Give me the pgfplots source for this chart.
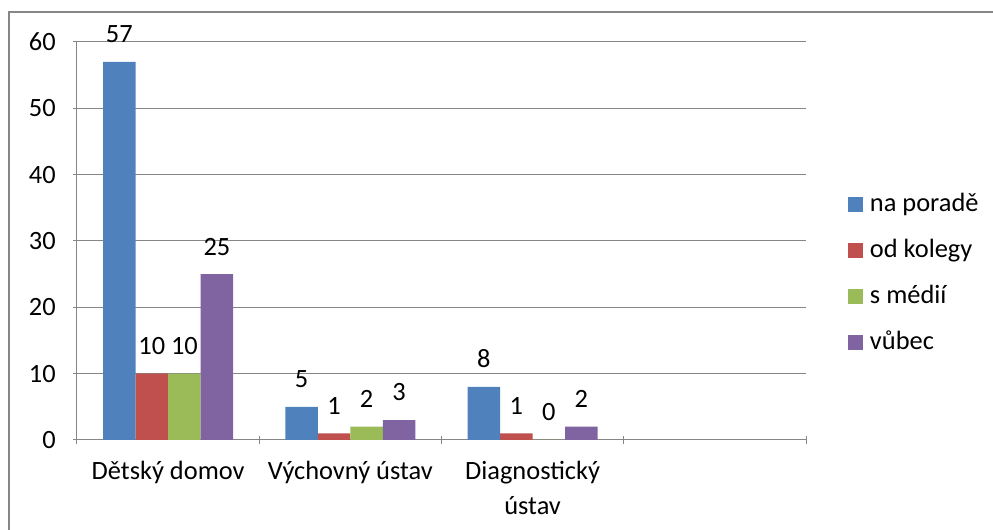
\documentclass[border=0pt]{standalone}
\usepackage{fontspec}
\setmainfont{Carlito}
\usepackage{pgfplots}
\pgfplotsset{compat=1.18}
\definecolor{cblue}{HTML}{4F81BD}
\definecolor{cred}{HTML}{C0504D}
\definecolor{cgreen}{HTML}{9BBB59}
\definecolor{cpurple}{HTML}{8064A2}
\definecolor{axgray}{HTML}{868686}
\newcommand\cf{\fontsize{19.8}{26.25}\selectfont}
\begin{document}
\begin{tikzpicture}
\useasboundingbox (0,0) rectangle (744.75pt,-397.5pt);
\draw[axgray, line width=1.5pt] (6.4pt,-400pt) -- (6.4pt,-8.9pt) -- (750pt,-8.9pt);
\begin{axis}[
  at={(57.75pt,-330pt)}, anchor=south west,
  scale only axis, width=546.75pt, height=298.5pt,
  ybar=0pt, bar width=24.4pt,
  legend image code/.code={\fill[#1] (0pt,0pt) rectangle (11.25pt,11.25pt);},
  xmin=-0.5, xmax=3.5, ymin=0, ymax=60,
  ytick={0,10,...,60},
  xtick={0,1,2,3},
  xticklabels={Dětský domov, Výchovný ústav, {\begin{tabular}[t]{@{}c@{}}Diagnostický\\ústav\end{tabular}}, {}},
  minor xtick={-0.5,0.5,1.5,2.5,3.5},
  major tick length=6pt, minor tick length=6pt, tick align=outside,
  axis lines=left, axis line style={-, draw=axgray, line width=0.75pt},
  major x tick style={draw=none},
  minor x tick style={axgray, line width=0.75pt},
  ytick style={axgray, line width=0.75pt},
  ymajorgrids, grid style={axgray, line width=0.75pt},
  tick label style={font=\cf, inner sep=0pt, text=black},
  yticklabel style={anchor=east, xshift=-12.75pt},
  xticklabel style={anchor=base, yshift=-26.5pt},
  /pgf/number format/assume math mode=true,
  nodes near coords,
  nodes near coords style={font=\cf, anchor=south, inner sep=0pt, yshift=14pt, text=black},
  legend style={at={(axis description cs:1.0576,0.6198)}, anchor=north west,
    draw=none, fill=none, inner sep=0pt, outer sep=0pt, row sep=15.5pt, column sep=5.25pt,
    font=\cf, nodes={inner sep=0pt, text height=14pt, text depth=5pt, anchor=base west}},
  legend cell align=left,
]
\addplot[fill=cblue, draw=none] coordinates {(0,57) (1,5) (2,8)};
\addplot[fill=cred, draw=none] coordinates {(0,10) (1,1) (2,1)};
\addplot[fill=cgreen, draw=none] coordinates {(0,10) (1,2) (2,0)};
\addplot[fill=cpurple, draw=none] coordinates {(0,25) (1,3) (2,2)};
\legend{na poradě, od kolegy, s médií, vůbec}
\end{axis}
\end{tikzpicture}
\end{document}
